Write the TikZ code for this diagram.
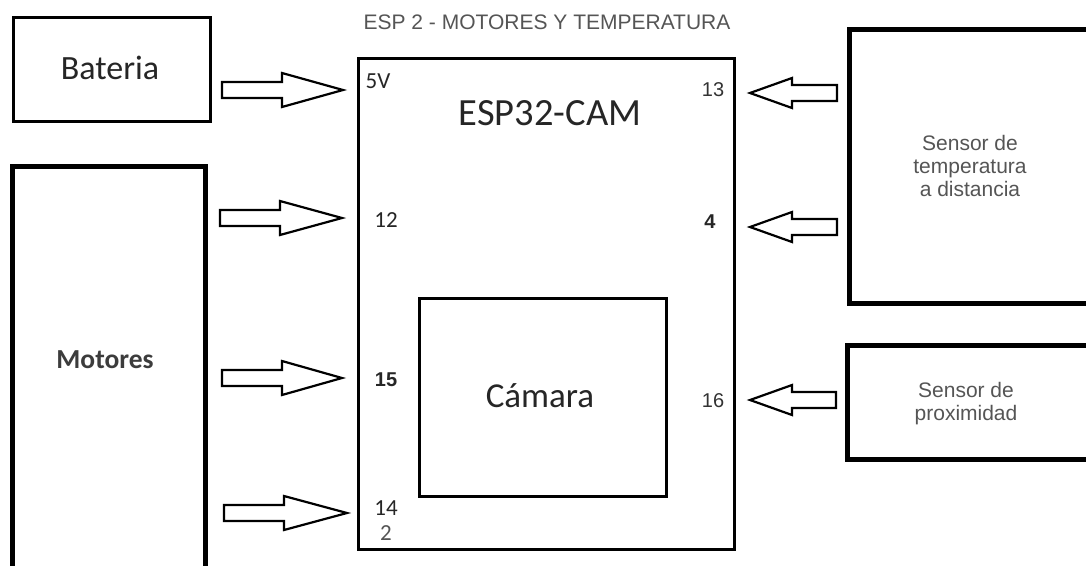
\documentclass[tikz,border=0pt]{standalone}
\usepackage{fontspec}
\setmainfont{Liberation Sans}
\newfontfamily\calib{Carlito}
\definecolor{txtgray}{HTML}{555555}
\definecolor{txtdark}{HTML}{262626}
\newcommand\blockarrow[6]{% name, tail x, head base x, tip x, y, head half
  \draw[barrowstyle] (#2,#5-8) -- (#3,#5-8) -- (#3,#5-#6) -- (#4,#5) coordinate (#1) -- (#3,#5+#6) -- (#3,#5+8) -- (#2,#5+8) -- cycle;}
\begin{document}
\begin{tikzpicture}[x=1pt,y=-1pt,
  thinbox/.style={draw=black, line width=2.6pt, inner sep=0pt},
  thickbox/.style={draw=black, line width=5pt, inner sep=0pt},
  barrowstyle/.style={draw=black, line width=2.2pt, fill=white, line join=miter},
  calibtxt/.style={font=\calib\fontsize{#1}{#1}\selectfont, text=txtdark, inner sep=0pt},
  ariatxt/.style={font=\fontsize{#1}{#1}\selectfont, text=txtgray, inner sep=0pt, align=center}]
\useasboundingbox (0,0) rectangle (1086,565);
\fill[white] (0,0) rectangle (1086,565);

% boxes
\node[thinbox, minimum width=197pt, minimum height=104pt] (bat) at (112,69.5) {};
\node[thickbox, minimum width=193pt, minimum height=404pt] (mot) at (109,368.5) {};
\node[thinbox, minimum width=376.5pt, minimum height=491.5pt] (esp) at (546.5,304) {};
\node[thinbox, minimum width=247.5pt, minimum height=198.5pt] (cam) at (543,397.5) {};
\node[thickbox, minimum width=250pt, minimum height=274pt] (temp) at (974.75,166.5) {};
\node[thickbox, minimum width=252.5pt, minimum height=114pt] (prox) at (973.75,402.5) {};

% title
\node[ariatxt=21, text=txtgray] (title) at (547,22) {ESP 2 - MOTORES Y TEMPERATURA};

% main labels
\node[calibtxt=34] (batl) at (110,68) {Bateria};
\node[calibtxt=38.5] (espl) at (550,113) {ESP32-CAM};
\node[calibtxt=35] (caml) at (540,396) {Cámara};
\node[calibtxt=27, font=\calib\bfseries\fontsize{27.5}{27.5}\selectfont, text=txtdark!90] (motl) at (105,360) {Motores};
\node[ariatxt=21, text=txtgray] (templ) at (970,166) {Sensor de\\[2pt]temperatura\\[2pt]a distancia};
\node[ariatxt=21, text=txtgray] (proxl) at (966,404) {Sensor de\\[2pt]proximidad};

% pin labels
\node[calibtxt=23] (p5v) at (378,81) {5V};
\node[ariatxt=20, text=black!80] (p13) at (713,90) {13};
\node[calibtxt=23] (p12) at (386,220) {12};
\node[ariatxt=20, text=black!85, font=\bfseries\fontsize{20}{20}\selectfont] (p4) at (710,222) {4};
\node[ariatxt=20, text=black!85, font=\bfseries\fontsize{20}{20}\selectfont] (p15) at (386,380) {15};
\node[ariatxt=20, text=black!80] (p16) at (713,401) {16};
\node[calibtxt=23] (p14) at (386,508) {14};
\node[calibtxt=23, text=txtgray] (p2) at (386,533) {2};

% block arrows
\blockarrow{abat}{222}{282}{343}{90}{17}
\blockarrow{am1}{220}{280}{342}{218}{17}
\blockarrow{am2}{222}{282}{342}{378}{17}
\blockarrow{am3}{224}{284}{347}{513}{17}
\blockarrow{at1}{837}{792}{750}{93}{15}
\blockarrow{at2}{837}{792}{750}{227}{15}
\blockarrow{ap}{836}{792}{750}{400}{15}
\end{tikzpicture}
\end{document}
